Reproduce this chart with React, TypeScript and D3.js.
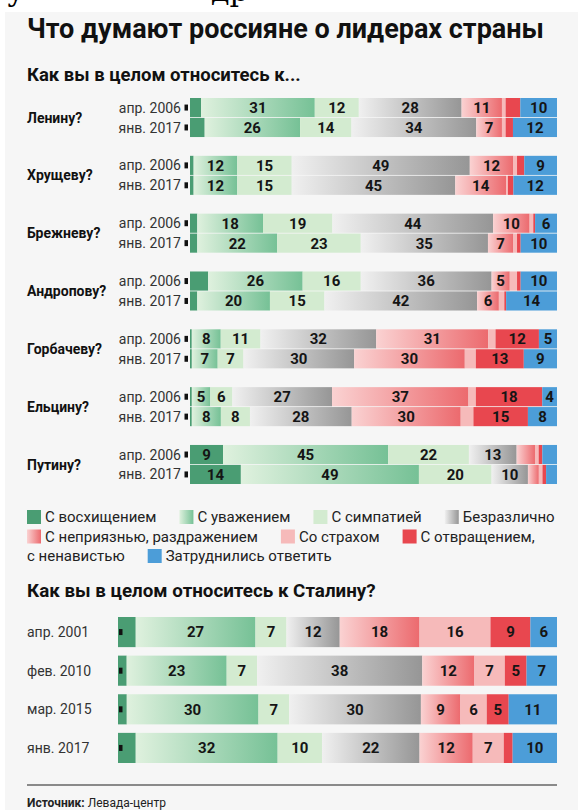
import React, { useEffect, useRef } from "react";
import * as d3 from "d3";

const categories = [
  "С восхищением",
  "С уважением",
  "С симпатией",
  "Безразлично",
  "С неприязнью, раздражением",
  "Со страхом",
  "С отвращением, с ненавистью",
  "Затруднились ответить",
];
const leaders = ["Ленину?", "Хрущеву?", "Брежневу?", "Андропову?", "Горбачеву?", "Ельцину?", "Путину?"];
const waves = ["апр. 2006", "янв. 2017"];
// % in the order of categories
const values2006 = [
  [3, 31, 12, 28, 11, 1, 4, 10],
  [1, 12, 15, 49, 12, 1, 2, 9],
  [2, 18, 19, 44, 10, 1, 0.5, 6],
  [5, 26, 16, 36, 5, 2, 1, 10],
  [0.5, 8, 11, 32, 31, 2, 12, 5],
  [0.5, 5, 6, 27, 37, 2, 18, 4],
  [9, 45, 22, 13, 5, 1, 1, 4],
];
const values2017 = [
  [4, 26, 14, 34, 7, 1, 2, 12],
  [1, 12, 15, 45, 14, 0.5, 1.5, 12],
  [2, 22, 23, 35, 7, 1, 1, 10],
  [2, 20, 15, 42, 6, 1.5, 0.5, 14],
  [0.5, 7, 7, 30, 30, 3, 13, 9],
  [0.5, 8, 8, 28, 30, 3.5, 15, 8],
  [14, 49, 20, 10, 3, 1, 1, 3],
];
// segments that carry no number in the original
const unlabeled2006 = [[0, 5, 6], [0, 5, 6], [0, 5, 6], [0, 5, 6], [0, 5], [0, 5], [4, 5, 6, 7]];
const unlabeled2017 = [[0, 5, 6], [0, 5, 6], [0, 5, 6], [0, 5, 6], [0, 5], [0, 5], [4, 5, 6, 7]];

const stalinWaves = ["апр. 2001", "фев. 2010", "мар. 2015", "янв. 2017"];
const stalinValues = [
  [4, 27, 7, 12, 18, 16, 9, 6],
  [2, 23, 7, 38, 12, 7, 5, 7],
  [2, 30, 7, 30, 9, 6, 5, 11],
  [4, 32, 10, 22, 12, 7, 2, 10],
];
const stalinUnlabeled = [[0], [0], [0], [0, 6]];

const width = 578;
const height = 810;
const font = "Roboto, 'Liberation Sans', Arial, sans-serif";

const solid = ["#4a9d73", null, "#d3ebd0", null, null, "#f6baba", "#e8474f", "#4c9dd8"];
const grads = [
  null,
  ["#dff1de", "#76c196"],
  null,
  ["#f0f0f0", "#969696"],
  ["#fad2d2", "#ec6a6e"],
  null,
  null,
  null,
];
const fillOf = (k: number) => (solid[k] ? (solid[k] as string) : `url(#grad${k})`);

const App = () => {
  const ref = useRef<SVGSVGElement>(null);

  useEffect(() => {
    const svg = d3.select(ref.current);
    svg.selectAll("*").remove();

    const defs = svg.append("defs");
    grads.forEach((g, k) => {
      if (!g) return;
      const lg = defs.append("linearGradient").attr("id", "grad" + k);
      lg.append("stop").attr("offset", "0%").attr("stop-color", g[0]);
      lg.append("stop").attr("offset", "100%").attr("stop-color", g[1]);
    });

    // clipped line of text from the page above (only descenders visible)
    svg.append("text")
      .attr("x", 7).attr("y", 1)
      .style("font-family", "'DejaVu Serif', serif")
      .style("font-size", "30px")
      .text("у");
    svg.append("text")
      .attr("x", 211).attr("y", 1)
      .style("font-family", "'DejaVu Serif', serif")
      .style("font-size", "30px")
      .text("др");

    svg.append("rect")
      .attr("x", 5).attr("y", 12)
      .attr("width", width - 5).attr("height", height - 12)
      .attr("fill", "#f6f6f6");

    svg.append("text")
      .text("Что думают россияне о лидерах страны")
      .attr("x", 27).attr("y", 38)
      .style("font-family", font)
      .style("font-weight", "bold")
      .style("font-size", "27px")
      .style("fill", "#111");

    svg.append("text")
      .text("Как вы в целом относитесь к...")
      .attr("x", 27).attr("y", 81)
      .style("font-family", font)
      .style("font-weight", "bold")
      .style("font-size", "18.5px")
      .style("fill", "#111");

    const stack = d3.stack<number[], number>()
      .keys(d3.range(categories.length))
      .value((d, k) => d[k])
      .offset(d3.stackOffsetExpand);

    const drawBar = (g: any, row: number[], hidden: number[], x: any, y0: number, h: number) => {
      const s = stack([row]);
      s.forEach((serie, k) => {
        const [a, b] = serie[0];
        g.append("rect")
          .attr("x", x(a))
          .attr("y", y0)
          .attr("width", Math.max(0, x(b) - x(a)))
          .attr("height", h)
          .attr("fill", fillOf(k));
        if (hidden.indexOf(k) < 0) {
          g.append("text")
            .text(row[k])
            .attr("x", (x(a) + x(b)) / 2)
            .attr("y", y0 + h / 2)
            .attr("dy", "0.36em")
            .attr("text-anchor", "middle")
            .style("font-family", font)
            .style("font-weight", "bold")
            .style("font-size", "15px")
            .style("fill", "#151515");
        }
      });
    };

    // leaders block
    const xTop = d3.scaleLinear().domain([0, 1]).range([190, 557]);
    const yGroup = d3.scaleBand<string>().domain(leaders).range([98, 484]).paddingInner(0.325);
    const yWave = d3.scaleBand<string>().domain(waves).range([0, yGroup.bandwidth()]).paddingInner(0.04);

    leaders.forEach((name, i) => {
      const g = svg.append("g").attr("transform", `translate(0,${yGroup(name)})`);
      g.append("text")
        .text(name)
        .attr("x", 27)
        .attr("y", yGroup.bandwidth() / 2)
        .attr("dy", "0.36em")
        .style("font-family", font)
        .style("font-weight", "bold")
        .style("font-size", "14px")
        .style("fill", "#111");
      const rows = [values2006[i], values2017[i]];
      const hidden = [unlabeled2006[i], unlabeled2017[i]];
      waves.forEach((w, j) => {
        const yy = yWave(w) as number;
        const h = yWave.bandwidth();
        g.append("text")
          .text(w)
          .attr("x", 181)
          .attr("y", yy + h / 2)
          .attr("dy", "0.36em")
          .attr("text-anchor", "end")
          .style("font-family", font)
          .style("font-size", "14px")
          .style("fill", "#333");
        g.append("rect")
          .attr("x", xTop(0) - 5.5).attr("y", yy + h / 2 - 3)
          .attr("width", 3.5).attr("height", 6)
          .attr("fill", "#111");
        drawBar(g, rows[j], hidden[j], xTop, yy, h);
      });
    });

    // legend
    const legendLines = [
      [[0, categories[0]], [1, categories[1]], [2, categories[2]], [3, categories[3]]],
      [[4, categories[4]], [5, categories[5]], [6, "С отвращением,"]],
      [[-1, "с ненавистью"], [7, categories[7]]],
    ] as [number, string][][];
    const legendY = d3.scalePoint<number>().domain([0, 1, 2]).range([517, 556]);
    legendLines.forEach((line, li) => {
      let cx = 27;
      const cy = legendY(li) as number;
      line.forEach(([k, label]) => {
        if (k >= 0) {
          svg.append("rect")
            .attr("x", cx).attr("y", cy - 7)
            .attr("width", 14).attr("height", 14)
            .attr("fill", fillOf(k));
          cx += 18;
        }
        const t = svg.append("text")
          .text(label)
          .attr("x", cx)
          .attr("y", cy)
          .attr("dy", "0.36em")
          .style("font-family", font)
          .style("font-size", "15px")
          .style("fill", "#222");
        cx += (t.node() as SVGTextElement).getComputedTextLength() + 23;
      });
    });

    // Stalin block
    svg.append("text")
      .text("Как вы в целом относитесь к Сталину?")
      .attr("x", 27).attr("y", 597)
      .style("font-family", font)
      .style("font-weight", "bold")
      .style("font-size", "18.8px")
      .style("fill", "#111");

    const xSt = d3.scaleLinear().domain([0, 1]).range([118, 557]);
    const ySt = d3.scaleBand<string>().domain(stalinWaves).range([617, 763]).paddingInner(0.22);
    stalinWaves.forEach((w, i) => {
      const yy = ySt(w) as number;
      const h = ySt.bandwidth();
      svg.append("text")
        .text(w)
        .attr("x", 27)
        .attr("y", yy + h / 2)
        .attr("dy", "0.36em")
        .style("font-family", font)
        .style("font-size", "14px")
        .style("fill", "#333");
      drawBar(svg, stalinValues[i], stalinUnlabeled[i], xSt, yy, h);
      svg.append("rect")
        .attr("x", xSt(0) + 1).attr("y", yy + h / 2 - 3)
        .attr("width", 3.5).attr("height", 6)
        .attr("fill", "#111");
    });

    svg.append("line")
      .attr("x1", 27).attr("x2", 557)
      .attr("y1", 785).attr("y2", 785)
      .attr("stroke", "#666")
      .attr("stroke-width", 1.5);

    const src = svg.append("text")
      .attr("x", 27).attr("y", 807)
      .style("font-family", font)
      .style("font-size", "12px")
      .style("fill", "#222");
    src.append("tspan").style("font-weight", "bold").text("Источник:");
    src.append("tspan").text(" Левада-центр");
  }, []);

  return (
    <div style={{ position: "absolute", left: 0, top: 0 }}>
      <svg ref={ref} width={width} height={height} style={{ display: "block", background: "#fff" }}></svg>
    </div>
  );
};

export default App;
